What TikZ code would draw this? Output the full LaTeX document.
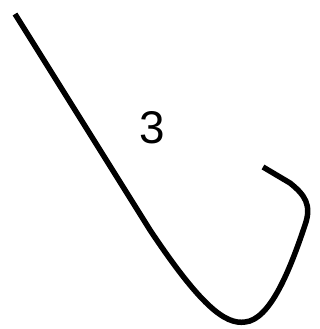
\documentclass[tikz,border=0pt]{standalone}
\usepackage{fontspec}
\setmainfont{Liberation Sans}
\usetikzlibrary{positioning}
\tikzset{
  hookline/.style={line width=5.5bp,line cap=butt,line join=round},
  hooklabel/.style={inner sep=0pt,font=\fontsize{46}{50}\selectfont}
}

\begin{document}
\begin{tikzpicture}[x=1bp,y=-1bp]
  \useasboundingbox (0,0) rectangle (320,329);
  \coordinate (top) at (15,14);
  \coordinate (bend) at (150,230);
  \coordinate (low) at (245,322);
  \coordinate (side) at (305,225);
  \coordinate (tip) at (263,167);
  \node[hooklabel] (three) at (152,128) {3};
  \draw[hookline] (top) -- (bend)
    .. controls (200,305) and (225,325) .. (low)
    .. controls (270,320) and (290,270) .. (side)
    .. controls (312,205) and (305,195) .. (290,183) -- (tip);
\end{tikzpicture}
\end{document}
